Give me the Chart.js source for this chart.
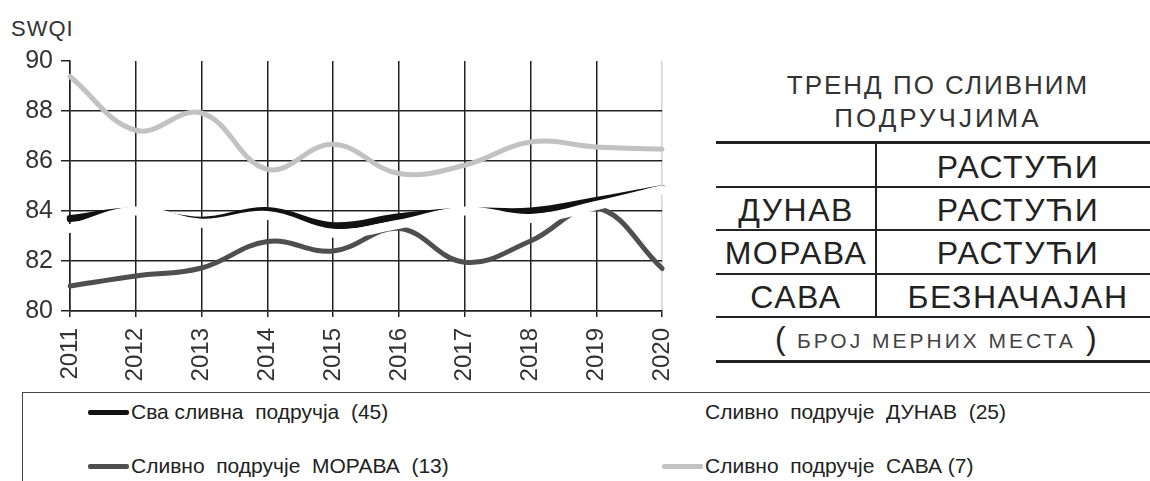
<!DOCTYPE html>
<html>
<head>
<meta charset="utf-8">
<script src="https://cdn.jsdelivr.net/npm/chart.js@4.4.1/dist/chart.umd.min.js"></script>
<style>
  body { margin: 0; background: #fff; font-family: "Liberation Sans", Arial, sans-serif; color: #333; }
  #page { position: relative; width: 1150px; height: 481px; overflow: hidden; }
  #chartBox { position: absolute; left: 0; top: 0; width: 702px; height: 392px; }
  .t { position: absolute; white-space: nowrap; }
  .hl { position: absolute; height: 2px; background: #222; }
  .vl { position: absolute; width: 2px; background: #222; }
  .mk { position: absolute; width: 41px; height: 5px; border-radius: 2px; }
  .cell { font-size: 32px; letter-spacing: 1.5px; text-align: center; color: #222; }
</style>
</head>
<body>
<div id="page">
  <div class="t" style="left:11px; top:16px; font-size:22px; letter-spacing:1px;">SWQI</div>
  <div id="chartBox"><canvas id="swqiChart"></canvas></div>

  <!-- trend table -->
  <div class="t" style="left:780px; top:70px; width:316px; text-align:center; font-size:26px; letter-spacing:2px;">ТРЕНД ПО СЛИВНИМ</div>
  <div class="t" style="left:780px; top:103px; width:316px; text-align:center; font-size:26px; letter-spacing:3px;">ПОДРУЧЈИМА</div>
  <div class="hl" style="left:716px; top:141px; width:434px; height:3px;"></div>
  <div class="hl" style="left:716px; top:186px; width:434px;"></div>
  <div class="hl" style="left:716px; top:229px; width:434px;"></div>
  <div class="hl" style="left:716px; top:273px; width:434px;"></div>
  <div class="hl" style="left:716px; top:316px; width:434px;"></div>
  <div class="hl" style="left:716px; top:360px; width:434px; height:3px;"></div>
  <div class="vl" style="left:875px; top:142px; height:175px;"></div>

  <div class="t cell" style="left:878px; top:149px; width:280px;">РАСТУЋИ</div>
  <div class="t cell" style="left:716px; top:192px; width:160px;">ДУНАВ</div>
  <div class="t cell" style="left:878px; top:192px; width:280px;">РАСТУЋИ</div>
  <div class="t cell" style="left:716px; top:235px; width:160px;">МОРАВА</div>
  <div class="t cell" style="left:878px; top:235px; width:280px;">РАСТУЋИ</div>
  <div class="t cell" style="left:716px; top:279px; width:160px;">САВА</div>
  <div class="t cell" style="left:878px; top:279px; width:280px;">БЕЗНАЧАЈАН</div>
  <div class="t" style="left:775px; top:320px; font-size:32px; color:#222;">(</div>
  <div class="t" style="left:797px; top:329px; font-size:21px; letter-spacing:3px; color:#444;">БРОЈ МЕРНИХ МЕСТА</div>
  <div class="t" style="left:1086px; top:320px; font-size:32px; color:#222;">)</div>

  <!-- legend -->
  <div class="hl" style="left:22px; top:392px; width:1128px; height:1px; background:#444;"></div>
  <div class="vl" style="left:22px; top:392px; height:89px; width:1px; background:#444;"></div>
  <div id="legend"></div>
</div>

<script>
var years = ['2011', '2012', '2013', '2014', '2015', '2016', '2017', '2018', '2019', '2020'];
var allAreas = [83.7, 84.0, 83.63, 84.02, 83.41, 83.77, 84.0, 84.0, 84.42, 84.9];
var dunav = [83.3, 84.0, 83.51, 83.82, 83.11, 83.47, 84.0, 83.7, 84.22, 84.85];
var morava = [81.0, 81.4, 81.72, 82.78, 82.4, 83.3, 81.95, 82.8, 84.13, 81.7];
var sava = [89.38, 87.23, 87.92, 85.67, 86.67, 85.5, 85.83, 86.76, 86.56, 86.47];

var seriesNames = ['Сва сливна  подручја  (45)', 'Сливно  подручје  ДУНАВ  (25)', 'Сливно  подручје  МОРАВА  (13)', 'Сливно  подручје  САВА (7)'];
var seriesColors = ['#111111', '#ffffff', '#4f4f4f', '#c2c2c2'];
var yTicks = [80, 82, 84, 86, 88, 90];

// legend (two columns, like the original box)
var legendPos = [[88, 400], [662, 400], [88, 454], [662, 454]];
var legendHtml = '';
for (var i = 0; i < seriesNames.length; i++) {
  var p = legendPos[i];
  legendHtml += '<div class="mk" style="left:' + p[0] + 'px; top:' + (p[1] + 10) + 'px; background:' + seriesColors[i] + ';"></div>';
  legendHtml += '<div class="t" style="left:' + (p[0] + 43) + 'px; top:' + p[1] + 'px; font-size:21px; color:#222; white-space:pre;">' + seriesNames[i] + '</div>';
}
document.getElementById('legend').innerHTML = legendHtml;

var ctx = document.getElementById('swqiChart').getContext('2d');

new Chart(ctx, {
  type: 'line',
  data: {
    labels: years,
    datasets: [
      { label: seriesNames[0], data: allAreas, borderColor: seriesColors[0], borderWidth: 7, order: 1 },
      { label: seriesNames[1], data: dunav, borderColor: seriesColors[1], borderWidth: 9, order: 0 },
      { label: seriesNames[2], data: morava, borderColor: seriesColors[2], borderWidth: 5, order: 2 },
      { label: seriesNames[3], data: sava, borderColor: seriesColors[3], borderWidth: 5, order: 3 }
    ]
  },
  options: {
    responsive: true,
    maintainAspectRatio: false,
    animation: false,
    layout: { padding: { top: 61, right: 2, left: 0, bottom: 0 } },
    elements: {
      point: { radius: 0 },
      line: { tension: 0.4, fill: false, borderCapStyle: 'round' }
    },
    plugins: {
      legend: { display: false },
      tooltip: { enabled: false }
    },
    scales: {
      x: {
        offset: false,
        afterFit: function(scale) { scale.height = 81; },
        grid: {
          color: function(c) { return c.index === 9 ? '#d4d4d4' : '#222'; },
          lineWidth: 1.5,
          tickLength: 6,
          tickColor: '#222'
        },
        border: { color: '#222', width: 1.5 },
        ticks: {
          minRotation: 90, maxRotation: 90, autoSkip: false, padding: 11,
          color: '#333', font: { family: 'Liberation Sans', size: 24 }
        }
      },
      y: {
        min: 80, max: 90,
        afterFit: function(scale) { scale.width = 70; },
        afterBuildTicks: function(scale) {
          scale.ticks = yTicks.map(function(v) { return { value: v }; });
        },
        grid: {
          color: function(c) { return c.tick && c.tick.value === 90 ? 'rgba(0,0,0,0)' : '#222'; },
          lineWidth: 1.5,
          tickLength: 9,
          tickColor: '#222'
        },
        border: { color: '#222', width: 1.5 },
        ticks: {
          padding: 8,
          color: '#333', font: { family: 'Liberation Sans', size: 25 }
        }
      }
    }
  }
});
</script>
</body>
</html>
